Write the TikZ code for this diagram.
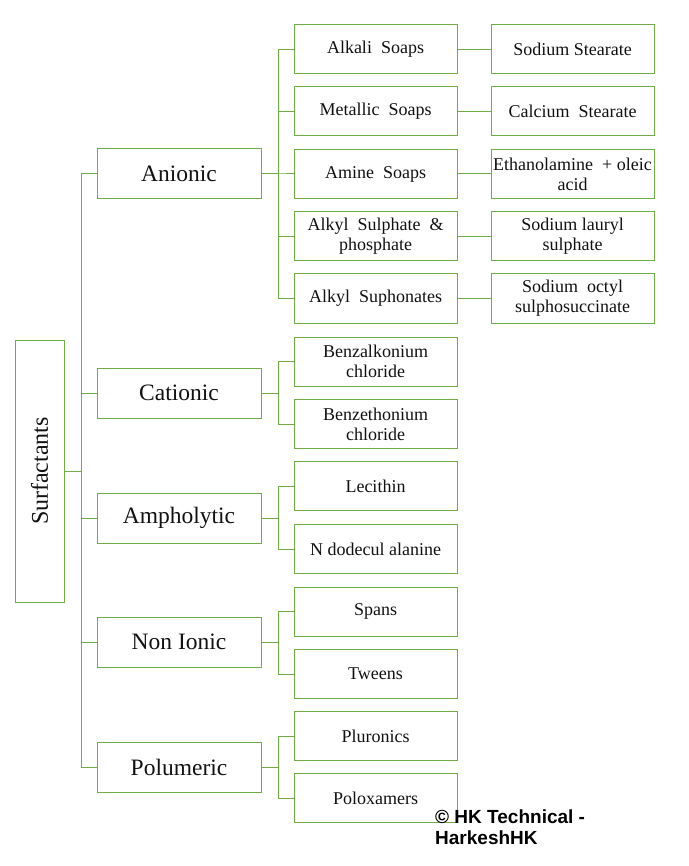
\documentclass[tikz,border=0pt]{standalone}
\usepackage{fontspec}
\setmainfont{Liberation Serif}
\newfontfamily\markfont{Liberation Sans}
\usetikzlibrary{positioning}
\definecolor{boxgreen}{HTML}{70AD47}
\definecolor{inktext}{HTML}{111111}

\begin{document}
\begin{tikzpicture}[
    x=1pt, y=-1pt,
    root/.style={rectangle, draw=boxgreen, line width=1pt, minimum width=49pt, minimum height=262pt, inner sep=0pt},
    group/.style={rectangle, draw=boxgreen, line width=1pt, minimum width=164pt, minimum height=50pt, align=center, text=inktext, font=\fontsize{23.5}{25}\selectfont},
    kind/.style={rectangle, draw=boxgreen, line width=1pt, minimum width=163pt, minimum height=49pt, inner sep=0.5pt, align=center, text=inktext, font=\fontsize{18}{20}\selectfont},
    link/.style={draw=boxgreen, line width=1pt}
]
\useasboundingbox (0,0) rectangle (688,866);

% Root
\node[root, label={[rotate=90, text=inktext, font=\fontsize{24}{25}\selectfont]center:Surfactants}] (surf) at (39.5,471) {};

% Groups
\node[group] (anionic) at (179,174) {Anionic};
\node[group] (cationic) at (179,393) {Cationic};
\node[group] (ampho) at (179,518) {Ampholytic};
\node[group] (nonionic) at (179,642) {Non Ionic};
\node[group] (polu) at (179,767) {Polumeric};

% Kinds
\node[kind] (alkali) at (375.5,49.5) {Alkali~ Soaps};
\node[kind] (metallic) at (375.5,111.5) {Metallic~ Soaps};
\node[kind] (amine) at (375.5,174) {Amine~ Soaps};
\node[kind] (sulphate) at (375.5,236.5) {Alkyl~ Sulphate~ \&\\phosphate};
\node[kind] (suphon) at (375.5,298.5) {Alkyl~ Suphonates};
\node[kind] (benzalk) at (375.5,361.5) {Benzalkonium\\chloride};
\node[kind] (benzeth) at (375.5,424) {Benzethonium\\chloride};
\node[kind] (lecithin) at (375.5,486) {Lecithin};
\node[kind] (dodecul) at (375.5,549) {N dodecul alanine};
\node[kind] (spans) at (375.5,611.5) {Spans};
\node[kind] (tweens) at (375.5,674) {Tweens};
\node[kind] (pluronics) at (375.5,736) {Pluronics};
\node[kind] (poloxam) at (375.5,798) {Poloxamers};

% Examples
\node[kind, right=33pt of alkali] (sodstear) {Sodium Stearate};
\node[kind, right=33pt of metallic] (calstear) {Calcium~ Stearate};
\node[kind, right=33pt of amine] (ethanol) {Ethanolamine~ + oleic\\acid};
\node[kind, right=33pt of sulphate] (lauryl) {Sodium lauryl\\sulphate};
\node[kind, right=33pt of suphon] (octyl) {Sodium~ octyl\\sulphosuccinate};

% Root to groups
\foreach \g in {anionic,cationic,ampho,nonionic,polu}
  \draw[link] (surf.east) -- ++(17,0) |- (\g.west);

% Groups to kinds
\foreach \k in {alkali,metallic,amine,sulphate,suphon}
  \draw[link] (anionic.east) -- ++(17,0) |- (\k.west);
\foreach \k in {benzalk,benzeth}
  \draw[link] (cationic.east) -- ++(17,0) |- (\k.west);
\foreach \k in {lecithin,dodecul}
  \draw[link] (ampho.east) -- ++(17,0) |- (\k.west);
\foreach \k in {spans,tweens}
  \draw[link] (nonionic.east) -- ++(17,0) |- (\k.west);
\foreach \k in {pluronics,poloxam}
  \draw[link] (polu.east) -- ++(17,0) |- (\k.west);

% Kinds to examples
\draw[link] (alkali) -- (sodstear);
\draw[link] (metallic) -- (calstear);
\draw[link] (amine) -- (ethanol);
\draw[link] (sulphate) -- (lauryl);
\draw[link] (suphon) -- (octyl);

% Watermark
\node[anchor=north west, inner sep=0pt, align=left, font=\markfont\bfseries\fontsize{19}{21}\selectfont] (mark) at (435,810) {© HK Technical -\\HarkeshHK};
\end{tikzpicture}
\end{document}
